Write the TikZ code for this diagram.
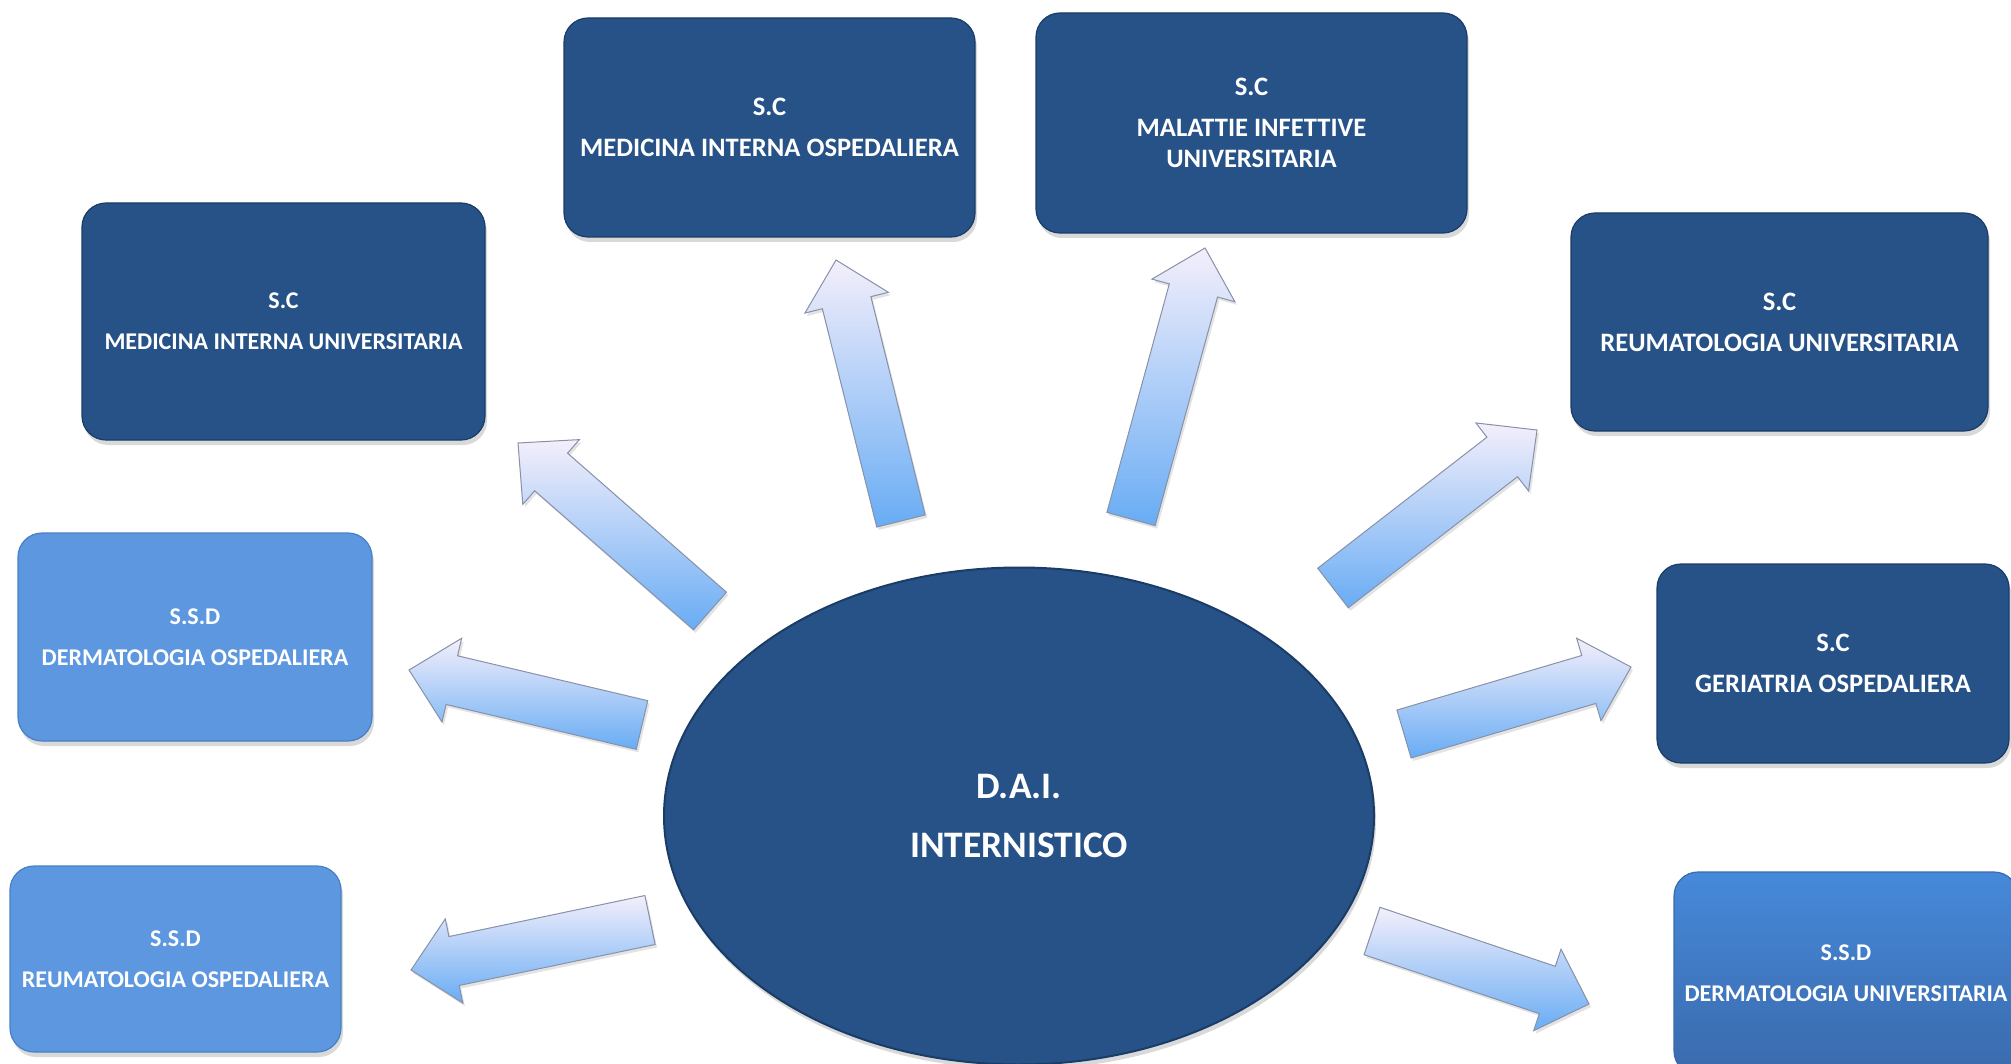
\documentclass[tikz,border=0pt]{standalone}
\usepackage{fontspec}
\setmainfont{Carlito}
\usetikzlibrary{calc,shapes.geometric,shadows}

\definecolor{darkbox}{RGB}{38,82,136}
\definecolor{darkedge}{RGB}{27,60,102}
\definecolor{lightbox}{RGB}{92,151,223}
\definecolor{lightedge}{RGB}{72,128,196}
\definecolor{midtop}{RGB}{70,137,218}
\definecolor{midbot}{RGB}{58,106,172}
\definecolor{arrtop}{RGB}{244,239,251}
\definecolor{arrmid}{RGB}{170,208,250}
\definecolor{arrbot}{RGB}{104,172,244}
\definecolor{arredge}{RGB}{135,145,168}

\tikzset{
  unitbox/.style={rectangle, rounded corners=12pt, line width=0.6pt, text=white,
    font=\bfseries\fontsize{12}{15}\selectfont, align=center, inner sep=0pt,
    drop shadow={shadow xshift=1pt, shadow yshift=-2.5pt, opacity=0.3}},
  bigtext/.style={font=\bfseries\fontsize{13.3}{15.5}\selectfont},
  scbox/.style={unitbox, fill=darkbox, draw=darkedge},
  ssdbox/.style={unitbox, fill=lightbox, draw=lightedge},
  ssdmid/.style={unitbox, top color=midtop, bottom color=midbot, draw=midbot},
  hub/.style={ellipse, fill=darkbox, draw=darkedge, line width=1pt, text=white,
    font=\bfseries\fontsize{18.7}{22}\selectfont, align=center, inner sep=0pt,
    drop shadow={shadow xshift=1pt, shadow yshift=-2.5pt, opacity=0.3}},
  blockarr/.style={top color=arrtop, middle color=arrmid, bottom color=arrbot,
    draw=arredge, line width=0.5pt, line join=miter,
    drop shadow={shadow xshift=1pt, shadow yshift=-1.5pt, opacity=0.22}},
}

% #1 tail coordinate, #2 tip coordinate, #3 name of the neck coordinate
\newcommand\blockarrow[3]{%
  \coordinate (#3) at ($(#2)!22pt!(#1)$);
  \path[blockarr]
    ($(#1)!12.5pt!90:(#2)$) --
    ($(#3)!12.5pt!90:(#2)$) --
    ($(#3)!21.5pt!90:(#2)$) --
    (#2) --
    ($(#3)!21.5pt!-90:(#2)$) --
    ($(#3)!12.5pt!-90:(#2)$) --
    ($(#1)!12.5pt!-90:(#2)$) -- cycle;
}

\begin{document}
\begin{tikzpicture}[x=0.5pt,y=-0.5pt]
\useasboundingbox (0,0) rectangle (2011,1064);
\clip (0,0) rectangle (2011,1064);

% arrow end points
\coordinate (t1) at (710,611);  \coordinate (h1) at (518,443);
\coordinate (t2) at (901,521);  \coordinate (h2) at (836,260);
\coordinate (t3) at (1131,519); \coordinate (h3) at (1205,248);
\coordinate (t4) at (1333,588); \coordinate (h4) at (1537,430);
\coordinate (t5) at (1404,734); \coordinate (h5) at (1631,667);
\coordinate (t6) at (1372,931); \coordinate (h6) at (1589,1004);
\coordinate (t7) at (650,920);  \coordinate (h7) at (411,970);
\coordinate (t8) at (642,725);  \coordinate (h8) at (409,670);

\blockarrow{t1}{h1}{n1}
\blockarrow{t2}{h2}{n2}
\blockarrow{t3}{h3}{n3}
\blockarrow{t4}{h4}{n4}
\blockarrow{t5}{h5}{n5}
\blockarrow{t6}{h6}{n6}
\blockarrow{t7}{h7}{n7}
\blockarrow{t8}{h8}{n8}

% units
\node[scbox, minimum width=201.5pt, minimum height=118.5pt] (medUniv) at (283.5,321.5)
  {S.C\\[5.5pt]MEDICINA INTERNA UNIVERSITARIA};
\node[scbox, bigtext, minimum width=205.5pt, minimum height=109.5pt] (medOsp) at (769.5,127.5)
  {S.C\\[5pt]MEDICINA INTERNA OSPEDALIERA};
\node[scbox, bigtext, minimum width=215.5pt, minimum height=110pt] (malInf) at (1251.5,123)
  {S.C\\[5pt]MALATTIE INFETTIVE\\UNIVERSITARIA};
\node[scbox, bigtext, minimum width=208.5pt, minimum height=109pt] (reuUniv) at (1779.5,322)
  {S.C\\[5pt]REUMATOLOGIA UNIVERSITARIA};
\node[scbox, bigtext, minimum width=176pt, minimum height=99.5pt] (geriOsp) at (1833,663.5)
  {S.C\\[5pt]GERIATRIA OSPEDALIERA};
\node[ssdmid, minimum width=172pt, minimum height=101.5pt] (dermUniv) at (1846,973.5)
  {S.S.D\\[5.5pt]DERMATOLOGIA UNIVERSITARIA};
\node[ssdbox, minimum width=177pt, minimum height=104pt] (dermOsp) at (195,637)
  {S.S.D\\[5.5pt]DERMATOLOGIA OSPEDALIERA};
\node[ssdbox, minimum width=165.5pt, minimum height=93pt] (reuOsp) at (175.5,959)
  {S.S.D\\[5.5pt]REUMATOLOGIA OSPEDALIERA};

% hub
\node[hub, minimum width=355pt, minimum height=248.5pt] (dai) at (1019,816)
  {D.A.I.\\[7.5pt]INTERNISTICO};
\end{tikzpicture}
\end{document}
